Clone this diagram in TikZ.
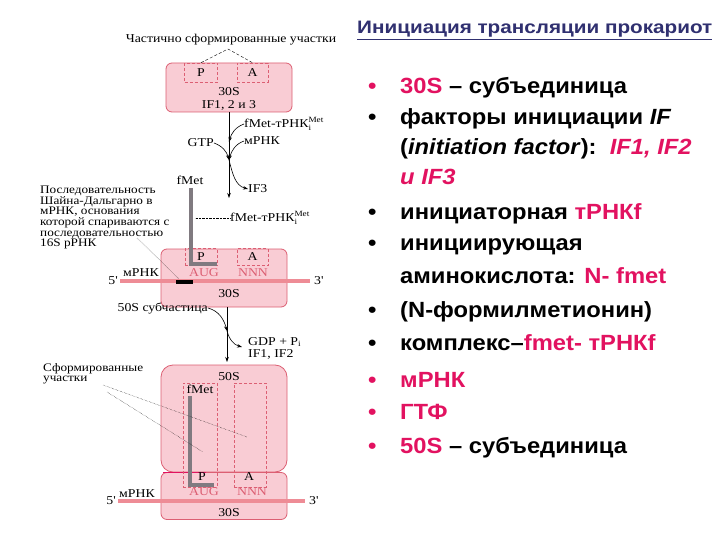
\documentclass[tikz,border=0pt]{standalone}
\usepackage{fontspec}
\setmainfont{Liberation Serif}
\setsansfont{Liberation Sans}
\newfontfamily\scanfont{Liberation Serif}[FakeStretch=1.15]
\newfontfamily\slidefont{Liberation Sans}[FakeStretch=1.08]
\newfontfamily\titlefont{Liberation Sans}[FakeStretch=1.15]
\usetikzlibrary{positioning}
\usetikzlibrary{arrows.meta}
\definecolor{ribofill}{RGB}{249,204,212}
\definecolor{ribodraw}{RGB}{220,95,115}
\definecolor{mrnacol}{RGB}{238,140,150}
\definecolor{hot}{RGB}{226,18,96}
\definecolor{navy}{RGB}{48,48,112}
\definecolor{trnacol}{RGB}{128,122,128}
\newcommand{\trnai}{тРНК$^{\mbox{\fontsize{8}{8}\selectfont Met}}_{\mbox{\fontsize{8}{8}\selectfont i}}$}

\begin{document}
\begin{tikzpicture}[x=1pt, y=-1pt, font=\scanfont\fontsize{12}{12}\selectfont]
    % Styles:
    \tikzset{subunit/.style={draw=ribodraw, fill=ribofill, line width=0.8pt, rounded corners=6pt}}
    \tikzset{site/.style={draw=ribodraw, line width=0.6pt, dash pattern=on 3pt off 2pt}}
    \tikzset{rnaline/.style={mrnacol, line width=4.5pt}}
    \tikzset{trnaL/.style={trnacol, line width=4pt}}
    \tikzset{flow/.style={-{Stealth[length=5pt, width=3.5pt]}, line width=0.6pt}}
    \tikzset{codon/.style={text=ribodraw, inner sep=0pt}}
    \tikzset{lbl/.style={inner sep=0pt}}
    \tikzset{note/.style={inner sep=0pt, anchor=north west, align=left, font=\scanfont\fontsize{11.5}{10.6}\selectfont}}
    \tikzset{point/.style={anchor=base west, inner sep=0pt, font=\slidefont\bfseries\fontsize{22}{24}\selectfont}}

    % Canvas:
    \fill[white] (0,0) rectangle (720,540);
    \useasboundingbox (0,0) rectangle (720,540);

    % Top complex (30S + IF):
    \node[subunit, minimum width=126pt, minimum height=49pt] (rib1) at (229,87.5) {};
    \node[site, minimum width=33pt, minimum height=19pt] (p1) at (201,72.5) {P};
    \node[site, minimum width=31pt, minimum height=19pt] (a1) at (252.5,72.5) {A};
    \node[lbl] (s30a) at (229,92) {30S};
    \node[lbl] (if123) [below = 4pt of s30a] {IF1, 2 и 3};
    \node[lbl] (partial) at (231,40) {Частично сформированные участки};
    \coordinate (peak) at (228,49);
    \draw[densely dashed, thin] (p1.north) -- (peak) -- (a1.north);

    % First step:
    \coordinate (j1) at (229,142);
    \coordinate (j2) at (229,160);
    \coordinate (end1) at (229,198);
    \node[lbl, anchor=west] (ftrna) at (244,124) {fMet-\trnai};
    \node[lbl, anchor=west] (mrna1) at (244,141) {мРНК};
    \node[lbl, anchor=east] (gtp) at (214,143) {GTP};
    \node[lbl, anchor=west] (if3) at (248,189) {IF3};
    \draw[flow] (rib1.south) -- (end1);
    \draw[flow] (ftrna.west) to[out=200, in=75] (j1);
    \draw[flow] (mrna1.west) to[out=200, in=75] (j2);
    \draw[flow] (gtp.east) to[out=-20, in=105] (j2);
    \draw[flow] (j2) to[out=-75, in=165] (if3.west);

    % Middle complex (30S initiation complex):
    \node[subunit, minimum width=126pt, minimum height=58pt] (rib2) at (224,278) {};
    \node[site, minimum width=32pt, minimum height=17pt] (p2) at (201,257) {P};
    \node[site, minimum width=31pt, minimum height=17pt] (a2) at (252.5,257) {A};
    \node[codon] (aug2) at (204,273) {AUG};
    \node[codon] (nnn2) at (253,273) {NNN};
    \coordinate (r2a) at (120,281);
    \coordinate (r2b) at (310,281);
    \draw[rnaline] (r2a) -- (r2b);
    \draw[line width=4pt] (176,282) -- (193,282);
    \coordinate (sd) at (179,279);
    \node[lbl, anchor=east] (five2) at (r2a) {5'\,};
    \node[lbl, anchor=west] (three2) at (r2b) {\,\,3'};
    \node[lbl] (mrna2) at (141,273) {мРНК};
    \node[lbl] (s30b) at (229,294) {30S};
    \draw[trnaL] (191,188) -- (191,264) -- (217,264);
    \node[lbl] (fmet2) at (190,180) {fMet};
    \node[lbl, anchor=west] (ftrna2) at (230,218) {fMet-\trnai};
    \coordinate (tr2) at (195,218);
    \draw[densely dotted] (ftrna2.west) -- (tr2);
    \node[note] (sdtext) at (40,186)
        {Последовательность\\Шайна-Дальгарно в\\мРНК, основания\\которой спариваются с\\последовательностью\\16S рРНК};
    \coordinate (sdfrom) at (137,238);
    \draw[densely dotted] (sdfrom) -- (sd);

    % Second step:
    \coordinate (top2) at (227,307);
    \coordinate (j3) at (227,331);
    \coordinate (end2) at (227,362);
    \node[lbl, anchor=east] (s50lbl) at (208,308) {50S субчастица};
    \node[lbl, anchor=north west, align=left, font=\scanfont\fontsize{12}{12}\selectfont] (gdp) at (248,337) {GDP + P$_{\mbox{\fontsize{8}{8}\selectfont i}}$\\IF1, IF2};
    \draw[flow] (top2) -- (end2);
    \draw[flow] (s50lbl.east) to[out=-15, in=105] (j3);
    \draw[flow] (j3) to[out=-75, in=165] (242,347);

    % Bottom complex (70S):
    \node[subunit, rounded corners=12pt, minimum width=126pt, minimum height=107pt] (rib50) at (224,418.5) {};
    \node[subunit, minimum width=126pt, minimum height=47pt] (rib3) at (224,496) {};
    \draw[hot, line width=0.8pt] (163,472.5) -- (206,472.5);
    \node[site, minimum width=34pt, minimum height=104pt] (p3) at (200,435) {};
    \node[site, minimum width=32pt, minimum height=104pt] (a3) at (250,435) {};
    \node[lbl] (s50) at (229,377) {50S};
    \node[lbl] (fmet3) at (200,389) {fMet};
    \draw[trnaL] (190,396) -- (190,485) -- (214,485);
    \node[lbl] (pp3) at (202,477) {P};
    \node[lbl] (aa3) at (249,477) {A};
    \node[codon] (aug3) at (204,492) {AUG};
    \node[codon] (nnn3) at (252,492) {NNN};
    \coordinate (r3a) at (118,501);
    \coordinate (r3b) at (305,501);
    \draw[rnaline] (r3a) -- (r3b);
    \node[lbl, anchor=east] (five3) at (r3a) {5'\,};
    \node[lbl, anchor=west] (three3) at (r3b) {\,\,3'};
    \node[lbl] (mrna3) at (137,494) {мРНК};
    \node[lbl] (s30c) at (229,513) {30S};
    \node[note] (formed) at (43,363) {Сформированные\\участки};
    \coordinate (f1) at (103,385);
    \coordinate (f2) at (107,392);
    \draw[densely dotted] (f1) -- (247,437);
    \draw[densely dotted] (f2) -- (203,452);

    % Right: title and points
    \node[anchor=base west, inner sep=0pt, text=navy, font=\titlefont\bfseries\fontsize{18}{20}\selectfont] (title) at (357,34)
        {\underline{Инициация трансляции прокариот}};
    \foreach \y/\c in {94/hot, 125/black, 219/black, 251/black, 317/black, 350/black, 387/hot, 419/hot, 453/hot}
        \node[point, text=\c] (b\y) at (368,\y) {•};
    \node[point] (t1) at (400,94) {{\color{hot}30S} – субъединица};
    \node[point] (t2) at (400,125) {факторы инициации \textit{IF}};
    \node[point] (t3) at (400,155) {(\textit{initiation factor}):\ \ {\color{hot}\textit{IF1, IF2}}};
    \node[point] (t4) at (400,185) {{\color{hot}\textit{и IF3}}};
    \node[point] (t5) at (400,219) {инициаторная {\color{hot}тРНКf}};
    \node[point] (t6) at (400,251) {инициирующая};
    \node[point] (t7) at (400,283) {аминокислота: {\color{hot}N- fmet}};
    \node[point] (t8) at (400,317) {(N-формилметионин)};
    \node[point] (t9) at (400,350) {комплекс–{\color{hot}fmet- тРНКf}};
    \node[point, text=hot] (t10) at (400,387) {мРНК};
    \node[point, text=hot] (t11) at (400,419) {ГТФ};
    \node[point] (t12) at (400,453) {{\color{hot}50S} – субъединица};
\end{tikzpicture}
\end{document}
